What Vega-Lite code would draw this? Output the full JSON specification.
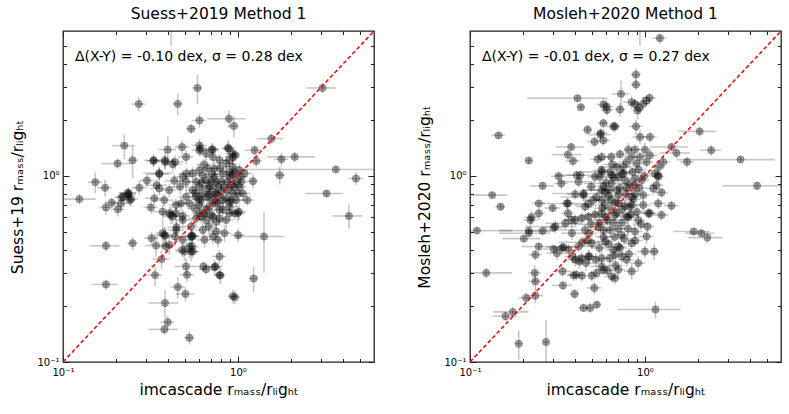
{
"$schema": "https://vega.github.io/schema/vega-lite/v6.json",
"padding": {"left": 10, "top": 6, "right": 5, "bottom": 5},
"spacing": 41,
"config": {
 "font": "DejaVu Sans",
 "view": {"stroke": "#222", "strokeWidth": 1.3},
 "axis": {"domain": false, "grid": false, "tickColor": "#222", "tickWidth": 1, "labelFont": "DejaVu Sans", "labelFontSize": 10, "labelColor": "#000", "titleFont": "DejaVu Sans", "titleFontSize": 15.5, "titleFontWeight": "normal", "titleColor": "#000", "labelOverlap": false, "labelFlush": false},
 "axisX": {"labelPadding": 11, "titlePadding": 3},
 "axisY": {"labelPadding": 10, "titlePadding": 11},
 "title": {"font": "DejaVu Sans", "fontSize": 15.5, "fontWeight": "normal", "color": "#000"}
},
"datasets": {
 "one": [{"a": 1}],
 "diag": [{"v": 0.1}, {"v": 6.2}],
 "suess": [
{"x":0.124,"y":0.750,"ex":0.03,"ey":0.047},
{"x":0.153,"y":0.925,"ex":0.014,"ey":0.12},
{"x":0.174,"y":0.863,"ex":0.016,"ey":0.09},
{"x":0.176,"y":0.677,"ex":0.016,"ey":0.058},
{"x":0.190,"y":0.718,"ex":0.017,"ey":0.045},
{"x":0.206,"y":0.661,"ex":0.019,"ey":0.056},
{"x":0.205,"y":1.164,"ex":0.039,"ey":0.073},
{"x":0.224,"y":1.453,"ex":0.032,"ey":0.22},
{"x":0.250,"y":1.213,"ex":0.017,"ey":0.24},
{"x":0.271,"y":2.43,"ex":0.025,"ey":0.21},
{"x":0.235,"y":0.811,"ex":0.027,"ey":0.051},
{"x":0.237,"y":0.788,"ex":0.022,"ey":0.05},
{"x":0.221,"y":0.772,"ex":0.02,"ey":0.049},
{"x":0.245,"y":0.750,"ex":0.023,"ey":0.064},
{"x":0.215,"y":0.711,"ex":0.025,"ey":0.06},
{"x":0.273,"y":0.863,"ex":0.025,"ey":0.073},
{"x":0.302,"y":0.944,"ex":0.028,"ey":0.08},
{"x":0.330,"y":1.213,"ex":0.038,"ey":0.10},
{"x":0.355,"y":1.033,"ex":0.068,"ey":0.088},
{"x":0.383,"y":1.213,"ex":0.054,"ey":0.13},
{"x":0.397,"y":1.383,"ex":0.046,"ey":0.25},
{"x":0.424,"y":1.155,"ex":0.049,"ey":0.098},
{"x":0.453,"y":2.436,"ex":0.031,"ey":0.32},
{"x":0.480,"y":1.429,"ex":0.044,"ey":0.12},
{"x":0.540,"y":1.791,"ex":0.037,"ey":0.11},
{"x":0.603,"y":1.985,"ex":0.055,"ey":0.17},
{"x":0.611,"y":1.400,"ex":0.041,"ey":0.12},
{"x":0.587,"y":2.966,"ex":0.04,"ey":0.53},
{"x":0.888,"y":2.026,"ex":0.22,"ey":0.22},
{"x":0.948,"y":1.851,"ex":0.064,"ey":0.24},
{"x":0.877,"y":1.411,"ex":0.06,"ey":0.15},
{"x":0.964,"y":1.290,"ex":0.065,"ey":0.081},
{"x":1.553,"y":1.584,"ex":0.26,"ey":0.10},
{"x":1.773,"y":1.228,"ex":0.16,"ey":0.10},
{"x":2.113,"y":1.264,"ex":0.64,"ey":0.08},
{"x":1.734,"y":1.008,"ex":0.12,"ey":0.11},
{"x":3.633,"y":1.081,"ex":2.6,"ey":0.04},
{"x":4.73,"y":0.968,"ex":0.45,"ey":0.08},
{"x":3.046,"y":2.966,"ex":0.58,"ey":0.19},
{"x":3.212,"y":0.804,"ex":0.79,"ey":0.034},
{"x":4.314,"y":0.609,"ex":0.83,"ey":0.09},
{"x":1.219,"y":0.936,"ex":0.08,"ey":0.08},
{"x":1.131,"y":0.741,"ex":0.1,"ey":0.047},
{"x":1.410,"y":0.472,"ex":0.43,"ey":0.17},
{"x":1.230,"y":0.281,"ex":0.08,"ey":0.045},
{"x":1.004,"y":0.480,"ex":0.09,"ey":0.04},
{"x":0.936,"y":0.2255,"ex":0.064,"ey":0.019},
{"x":0.961,"y":0.223,"ex":0.065,"ey":0.019},
{"x":0.785,"y":0.369,"ex":0.072,"ey":0.031},
{"x":0.785,"y":0.293,"ex":0.05,"ey":0.018},
{"x":0.745,"y":0.326,"ex":0.068,"ey":0.02},
{"x":0.635,"y":0.326,"ex":0.058,"ey":0.02},
{"x":0.658,"y":0.315,"ex":0.06,"ey":0.02},
{"x":0.682,"y":0.534,"ex":0.062,"ey":0.045},
{"x":0.751,"y":0.502,"ex":0.069,"ey":0.043},
{"x":0.768,"y":0.453,"ex":0.052,"ey":0.039},
{"x":0.545,"y":0.478,"ex":0.05,"ey":0.04},
{"x":0.528,"y":0.417,"ex":0.048,"ey":0.055},
{"x":0.540,"y":0.392,"ex":0.05,"ey":0.042},
{"x":0.480,"y":0.400,"ex":0.044,"ey":0.034},
{"x":0.505,"y":0.326,"ex":0.071,"ey":0.035},
{"x":0.512,"y":0.294,"ex":0.047,"ey":0.025},
{"x":0.453,"y":0.253,"ex":0.042,"ey":0.033},
{"x":0.501,"y":0.232,"ex":0.058,"ey":0.02},
{"x":0.383,"y":0.2076,"ex":0.074,"ey":0.037},
{"x":0.397,"y":0.1637,"ex":0.036,"ey":0.014},
{"x":0.380,"y":0.1496,"ex":0.073,"ey":0.009},
{"x":0.528,"y":0.135,"ex":0.036,"ey":0.011},
{"x":0.336,"y":0.293,"ex":0.031,"ey":0.038},
{"x":0.340,"y":0.422,"ex":0.048,"ey":0.055},
{"x":0.321,"y":0.462,"ex":0.03,"ey":0.039},
{"x":0.371,"y":0.492,"ex":0.034,"ey":0.088},
{"x":0.388,"y":0.417,"ex":0.036,"ey":0.035},
{"x":0.250,"y":0.435,"ex":0.017,"ey":0.037},
{"x":0.176,"y":0.421,"ex":0.034,"ey":0.027},
{"x":0.176,"y":0.261,"ex":0.03,"ey":0.016},
{"x":0.443,"y":0.512,"ex":0.051,"ey":0.055},
{"x":0.415,"y":0.616,"ex":0.038,"ey":0.066},
{"x":0.406,"y":0.629,"ex":0.037,"ey":0.053},
{"x":0.415,"y":7.0,"ex":0.02,"ey":2.0},
{"x":0.3283,"y":1.203,"ex":0.03,"ey":0.08},
{"x":0.7188,"y":1.383,"ex":0.06,"ey":0.1},
{"x":0.510,"y":1.029,"ex":0.05,"ey":0.08},
{"x":0.6027,"y":1.072,"ex":0.07,"ey":0.09},
{"x":0.735,"y":1.094,"ex":0.08,"ey":0.1},
{"x":0.8958,"y":1.050,"ex":0.09,"ey":0.08},
{"x":1.031,"y":0.988,"ex":0.1,"ey":0.07},
{"x":0.343,"y":0.891,"ex":0.05,"ey":0.07},
{"x":0.4055,"y":0.838,"ex":0.04,"ey":0.07},
{"x":0.467,"y":0.873,"ex":0.06,"ey":0.08},
{"x":0.5519,"y":0.838,"ex":0.05,"ey":0.06},
{"x":0.6299,"y":0.804,"ex":0.06,"ey":0.07},
{"x":0.7512,"y":0.804,"ex":0.07,"ey":0.06},
{"x":0.8572,"y":0.757,"ex":0.08,"ey":0.06},
{"x":1.0,"y":0.804,"ex":0.12,"ey":0.07},
{"x":0.3796,"y":0.741,"ex":0.05,"ey":0.06},
{"x":0.4429,"y":0.697,"ex":0.04,"ey":0.06},
{"x":0.5282,"y":0.711,"ex":0.06,"ey":0.05},
{"x":0.6027,"y":0.697,"ex":0.05,"ey":0.06},
{"x":0.6879,"y":0.683,"ex":0.06,"ey":0.05},
{"x":0.785,"y":0.655,"ex":0.07,"ey":0.06},
{"x":0.8958,"y":0.629,"ex":0.08,"ey":0.05},
{"x":1.013,"y":0.641,"ex":0.1,"ey":0.06},
{"x":0.4836,"y":0.579,"ex":0.05,"ey":0.05},
{"x":0.5768,"y":0.591,"ex":0.06,"ey":0.05},
{"x":0.6582,"y":0.579,"ex":0.06,"ey":0.05},
{"x":0.7512,"y":0.567,"ex":0.07,"ey":0.05},
{"x":0.8572,"y":0.579,"ex":0.08,"ey":0.06},
{"x":0.3796,"y":0.482,"ex":0.04,"ey":0.05},
{"x":0.4836,"y":0.453,"ex":0.05,"ey":0.04},
{"x":0.5519,"y":0.472,"ex":0.06,"ey":0.04},
{"x":0.6439,"y":0.453,"ex":0.06,"ey":0.04},
{"x":0.3713,"y":0.642,"ex":0.05,"ey":0.06},
{"x":0.3327,"y":0.757,"ex":0.04,"ey":0.06},
{"x":0.5054,"y":0.929,"ex":0.06,"ey":0.08},
{"x":0.7032,"y":0.929,"ex":0.07,"ey":0.07},
{"x":0.8026,"y":0.929,"ex":0.08,"ey":0.08},
{"x":0.9157,"y":0.891,"ex":0.08,"ey":0.06},
{"x":0.6027,"y":0.873,"ex":0.06,"ey":0.07},
{"x":0.6582,"y":0.948,"ex":0.06,"ey":0.08},
{"x":0.7188,"y":0.821,"ex":0.07,"ey":0.07},
{"x":0.768,"y":0.873,"ex":0.07,"ey":0.06},
{"x":0.8203,"y":1.029,"ex":0.08,"ey":0.09},
{"x":0.8958,"y":0.988,"ex":0.09,"ey":0.08},
{"x":0.9361,"y":1.117,"ex":0.09,"ey":0.1},
{"x":0.957,"y":1.05,"ex":0.1,"ey":0.08},
{"x":0.8572,"y":1.164,"ex":0.08,"ey":0.12},
{"x":0.785,"y":1.213,"ex":0.07,"ey":0.1},
{"x":0.673,"y":1.094,"ex":0.06,"ey":0.08},
{"x":0.5768,"y":0.772,"ex":0.05,"ey":0.06},
{"x":0.616,"y":0.741,"ex":0.06,"ey":0.06},
{"x":0.7188,"y":0.741,"ex":0.07,"ey":0.06},
{"x":0.768,"y":0.711,"ex":0.07,"ey":0.05},
{"x":0.8203,"y":0.741,"ex":0.08,"ey":0.06},
{"x":0.9361,"y":0.804,"ex":0.09,"ey":0.07},
{"x":0.9782,"y":0.741,"ex":0.1,"ey":0.06},
{"x":1.022,"y":0.873,"ex":0.1,"ey":0.07},
{"x":1.068,"y":0.804,"ex":0.11,"ey":0.07},
{"x":0.6439,"y":0.629,"ex":0.06,"ey":0.05},
{"x":0.7188,"y":0.604,"ex":0.07,"ey":0.05},
{"x":0.785,"y":0.591,"ex":0.07,"ey":0.05},
{"x":0.6027,"y":0.629,"ex":0.06,"ey":0.05},
{"x":0.5642,"y":0.669,"ex":0.05,"ey":0.06},
{"x":0.5054,"y":0.772,"ex":0.05,"ey":0.06},
{"x":0.473,"y":0.711,"ex":0.05,"ey":0.06},
{"x":0.4429,"y":0.629,"ex":0.04,"ey":0.05},
{"x":0.54,"y":0.534,"ex":0.05,"ey":0.05},
{"x":0.6299,"y":0.512,"ex":0.06,"ey":0.05},
{"x":0.7188,"y":0.472,"ex":0.07,"ey":0.04},
{"x":0.8386,"y":0.492,"ex":0.08,"ey":0.05},
{"x":0.8958,"y":0.683,"ex":0.09,"ey":0.06},
{"x":0.957,"y":0.629,"ex":0.1,"ey":0.05},
{"x":0.673,"y":0.772,"ex":0.06,"ey":0.06},
{"x":0.8026,"y":0.821,"ex":0.08,"ey":0.07},
{"x":0.735,"y":0.988,"ex":0.07,"ey":0.09},
{"x":0.6299,"y":1.008,"ex":0.06,"ey":0.09},
{"x":0.9361,"y":1.264,"ex":0.09,"ey":0.12},
{"x":0.8958,"y":1.213,"ex":0.08,"ey":0.1},
{"x":0.6582,"y":1.317,"ex":0.06,"ey":0.12},
{"x":0.5054,"y":1.264,"ex":0.05,"ey":0.11},
{"x":0.7188,"y":1.264,"ex":0.07,"ey":0.13},
{"x":1.022,"y":1.072,"ex":0.11,"ey":0.09},
{"x":1.045,"y":0.929,"ex":0.1,"ey":0.07},
{"x":1.092,"y":1.029,"ex":0.12,"ey":0.08},
{"x":0.9782,"y":0.929,"ex":0.09,"ey":0.07},
{"x":0.7512,"y":0.929,"ex":0.07,"ey":0.08},
{"x":0.5519,"y":1.029,"ex":0.05,"ey":0.08},
{"x":0.5768,"y":0.929,"ex":0.06,"ey":0.07},
{"x":0.673,"y":0.855,"ex":0.06,"ey":0.07},
{"x":0.8763,"y":0.838,"ex":0.08,"ey":0.07},
{"x":0.957,"y":0.873,"ex":0.09,"ey":0.07},
{"x":0.9157,"y":0.741,"ex":0.09,"ey":0.06},
{"x":0.318,"y":0.677,"ex":0.03,"ey":0.05},
{"x":0.3553,"y":0.855,"ex":0.04,"ey":0.07},
{"x":0.433,"y":0.940,"ex":0.05,"ey":0.08},
{"x":0.4836,"y":0.988,"ex":0.06,"ey":0.09},
{"x":0.709,"y":1.388,"ex":0.07,"ey":0.12},
{"x":1.246,"y":1.372,"ex":0.15,"ey":0.09},
{"x":1.274,"y":1.203,"ex":0.1,"ey":0.09},
{"x":0.9361,"y":1.317,"ex":0.09,"ey":0.11},
{"x":0.8869,"y":1.40,"ex":0.08,"ey":0.12},
{"x":0.6027,"y":1.458,"ex":0.06,"ey":0.12},
{"x":0.6027,"y":1.372,"ex":0.06,"ey":0.1},
{"x":0.3553,"y":1.021,"ex":0.05,"ey":0.08},
{"x":0.3838,"y":1.188,"ex":0.05,"ey":0.1},
{"x":0.437,"y":1.188,"ex":0.05,"ey":0.1},
{"x":0.2163,"y":0.766,"ex":0.02,"ey":0.05},
{"x":0.237,"y":0.804,"ex":0.025,"ey":0.06},
{"x":0.241,"y":0.741,"ex":0.02,"ey":0.05},
{"x":0.3838,"y":0.476,"ex":0.04,"ey":0.05},
{"x":0.4055,"y":0.426,"ex":0.04,"ey":0.05},
{"x":0.437,"y":0.472,"ex":0.05,"ey":0.05},
{"x":0.446,"y":0.529,"ex":0.05,"ey":0.05},
{"x":0.366,"y":0.357,"ex":0.04,"ey":0.04},
{"x":0.494,"y":0.392,"ex":0.05,"ey":0.04},
{"x":0.546,"y":0.417,"ex":0.05,"ey":0.04},
{"x":0.5519,"y":0.392,"ex":0.05,"ey":0.03},
{"x":0.540,"y":0.472,"ex":0.05,"ey":0.04},
{"x":0.735,"y":0.323,"ex":0.06,"ey":0.03},
{"x":0.7924,"y":0.292,"ex":0.06,"ey":0.03},
{"x":0.616,"y":0.604,"ex":0.06,"ey":0.05},
{"x":0.7032,"y":0.616,"ex":0.07,"ey":0.05},
{"x":0.4238,"y":0.604,"ex":0.05,"ey":0.05},
{"x":0.4836,"y":0.609,"ex":0.05,"ey":0.05},
{"x":1.0,"y":0.629,"ex":0.1,"ey":0.06},
{"x":0.62,"y":0.92,"ex":0.06,"ey":0.07},
{"x":0.68,"y":0.79,"ex":0.07,"ey":0.06},
{"x":0.74,"y":0.72,"ex":0.07,"ey":0.06},
{"x":0.82,"y":0.66,"ex":0.08,"ey":0.05},
{"x":0.87,"y":0.93,"ex":0.08,"ey":0.07},
{"x":0.93,"y":1.01,"ex":0.09,"ey":0.08},
{"x":0.66,"y":0.66,"ex":0.06,"ey":0.05},
{"x":0.57,"y":0.81,"ex":0.06,"ey":0.06},
{"x":0.79,"y":1.10,"ex":0.08,"ey":0.09},
{"x":0.71,"y":1.02,"ex":0.07,"ey":0.08},
{"x":0.60,"y":0.75,"ex":0.06,"ey":0.06},
{"x":0.83,"y":0.87,"ex":0.08,"ey":0.07},
{"x":0.77,"y":0.78,"ex":0.07,"ey":0.06},
{"x":0.69,"y":0.88,"ex":0.07,"ey":0.07},
{"x":0.90,"y":0.72,"ex":0.09,"ey":0.06},
{"x":0.64,"y":1.15,"ex":0.06,"ey":0.09}
 ],
 "mosleh": [
{"x":1.217,"y":5.49,"ex":0.11,"ey":0.35},
{"x":0.9365,"y":6.3,"ex":0.01,"ey":1.3},
{"x":0.889,"y":3.498,"ex":0.06,"ey":0.30},
{"x":0.889,"y":3.092,"ex":0.06,"ey":0.2},
{"x":0.730,"y":2.756,"ex":0.08,"ey":0.49},
{"x":1.063,"y":2.624,"ex":0.1,"ey":0.17},
{"x":1.022,"y":2.539,"ex":0.07,"ey":0.16},
{"x":0.840,"y":2.488,"ex":0.09,"ey":0.21},
{"x":0.877,"y":2.437,"ex":0.06,"ey":0.15},
{"x":0.924,"y":2.320,"ex":0.06,"ey":0.15},
{"x":0.908,"y":2.245,"ex":0.06,"ey":0.24},
{"x":0.721,"y":2.273,"ex":0.05,"ey":0.19},
{"x":0.603,"y":2.358,"ex":0.055,"ey":0.2},
{"x":0.412,"y":2.613,"ex":0.2,"ey":0.1},
{"x":0.4305,"y":2.339,"ex":0.02,"ey":0.1},
{"x":0.579,"y":2.416,"ex":0.05,"ey":0.2},
{"x":0.579,"y":1.920,"ex":0.04,"ey":0.12},
{"x":0.661,"y":1.843,"ex":0.06,"ey":0.12},
{"x":0.675,"y":1.843,"ex":0.04,"ey":0.12},
{"x":0.470,"y":1.769,"ex":0.03,"ey":0.11},
{"x":0.557,"y":1.664,"ex":0.08,"ey":0.1},
{"x":0.889,"y":1.843,"ex":0.08,"ey":0.16},
{"x":0.9365,"y":1.617,"ex":0.085,"ey":0.14},
{"x":1.068,"y":1.617,"ex":0.1,"ey":0.1},
{"x":2.056,"y":1.733,"ex":0.5,"ey":0.11},
{"x":0.1456,"y":1.650,"ex":0.013,"ey":0.07},
{"x":0.515,"y":1.526,"ex":0.047,"ey":0.1},
{"x":0.579,"y":1.551,"ex":0.053,"ey":0.1},
{"x":0.379,"y":1.429,"ex":0.07,"ey":0.06},
{"x":0.363,"y":1.300,"ex":0.07,"ey":0.08},
{"x":0.388,"y":1.203,"ex":0.035,"ey":0.08},
{"x":0.2168,"y":1.208,"ex":0.01,"ey":0.05},
{"x":0.804,"y":1.383,"ex":0.05,"ey":0.12},
{"x":0.877,"y":1.383,"ex":0.06,"ey":0.09},
{"x":1.0,"y":1.383,"ex":0.09,"ey":0.12},
{"x":1.419,"y":1.429,"ex":0.35,"ey":0.06},
{"x":1.514,"y":1.327,"ex":0.3,"ey":0.08},
{"x":1.742,"y":1.188,"ex":0.16,"ey":0.08},
{"x":2.396,"y":1.372,"ex":0.33,"ey":0.09},
{"x":3.52,"y":1.223,"ex":2.0,"ey":0.05},
{"x":4.38,"y":0.884,"ex":1.6,"ey":0.05},
{"x":1.201,"y":1.117,"ex":0.11,"ey":0.1},
{"x":1.272,"y":1.188,"ex":0.12,"ey":0.1},
{"x":1.191,"y":1.008,"ex":0.08,"ey":0.06},
{"x":1.165,"y":0.891,"ex":0.1,"ey":0.08},
{"x":1.244,"y":0.814,"ex":0.11,"ey":0.05},
{"x":1.419,"y":0.691,"ex":0.13,"ey":0.045},
{"x":1.045,"y":0.629,"ex":0.1,"ey":0.04},
{"x":1.036,"y":0.534,"ex":0.09,"ey":0.035},
{"x":1.13,"y":0.392,"ex":0.07,"ey":0.04},
{"x":1.901,"y":0.502,"ex":0.45,"ey":0.02},
{"x":2.102,"y":0.492,"ex":0.4,"ey":0.02},
{"x":2.274,"y":0.466,"ex":0.5,"ey":0.03},
{"x":0.321,"y":0.996,"ex":0.03,"ey":0.06},
{"x":0.3325,"y":0.910,"ex":0.03,"ey":0.06},
{"x":0.260,"y":0.884,"ex":0.04,"ey":0.04},
{"x":0.408,"y":1.008,"ex":0.05,"ey":0.06},
{"x":0.5665,"y":1.050,"ex":0.05,"ey":0.07},
{"x":0.134,"y":0.788,"ex":0.03,"ey":0.03},
{"x":0.1495,"y":0.683,"ex":0.01,"ey":0.03},
{"x":0.1096,"y":0.508,"ex":0.065,"ey":0.02},
{"x":0.1239,"y":0.301,"ex":0.05,"ey":0.02},
{"x":0.2344,"y":0.301,"ex":0.02,"ey":0.03},
{"x":0.2365,"y":0.271,"ex":0.02,"ey":0.025},
{"x":0.2365,"y":0.227,"ex":0.025,"ey":0.02},
{"x":0.2094,"y":0.221,"ex":0.02,"ey":0.015},
{"x":0.1758,"y":0.1858,"ex":0.04,"ey":0.012},
{"x":0.1596,"y":0.1762,"ex":0.025,"ey":0.01},
{"x":0.190,"y":0.1253,"ex":0.01,"ey":0.022},
{"x":0.272,"y":0.128,"ex":0.01,"ey":0.04},
{"x":0.4457,"y":0.1953,"ex":0.03,"ey":0.01},
{"x":0.4862,"y":0.1953,"ex":0.03,"ey":0.012},
{"x":0.5307,"y":0.2034,"ex":0.03,"ey":0.01},
{"x":0.3962,"y":0.232,"ex":0.025,"ey":0.015},
{"x":1.150,"y":0.1913,"ex":0.45,"ey":0.02},
{"x":0.3398,"y":0.258,"ex":0.045,"ey":0.015},
{"x":0.3908,"y":0.292,"ex":0.035,"ey":0.02},
{"x":0.436,"y":0.291,"ex":0.03,"ey":0.02},
{"x":0.497,"y":0.291,"ex":0.03,"ey":0.02},
{"x":0.5665,"y":0.326,"ex":0.08,"ey":0.02},
{"x":0.6459,"y":0.288,"ex":0.06,"ey":0.02},
{"x":0.675,"y":0.282,"ex":0.04,"ey":0.02},
{"x":0.3428,"y":0.414,"ex":0.07,"ey":0.02},
{"x":0.2472,"y":0.417,"ex":0.05,"ey":0.02},
{"x":0.3008,"y":0.404,"ex":0.04,"ey":0.02},
{"x":0.2365,"y":0.377,"ex":0.02,"ey":0.025},
{"x":0.2168,"y":0.492,"ex":0.07,"ey":0.02},
{"x":0.2168,"y":0.508,"ex":0.07,"ey":0.02},
{"x":0.260,"y":0.506,"ex":0.04,"ey":0.02},
{"x":0.3008,"y":0.527,"ex":0.04,"ey":0.03},
{"x":0.2472,"y":0.711,"ex":0.02,"ey":0.03},
{"x":0.2476,"y":0.629,"ex":0.02,"ey":0.05},
{"x":0.2969,"y":0.672,"ex":0.03,"ey":0.03},
{"x":0.3628,"y":0.711,"ex":0.03,"ey":0.05},
{"x":0.3628,"y":0.629,"ex":0.03,"ey":0.04},
{"x":0.436,"y":0.591,"ex":0.04,"ey":0.04},
{"x":0.3792,"y":0.579,"ex":0.035,"ey":0.04},
{"x":0.2244,"y":0.599,"ex":0.02,"ey":0.05},
{"x":0.2215,"y":0.579,"ex":0.02,"ey":0.04},
{"x":0.203,"y":0.460,"ex":0.05,"ey":0.02},
{"x":0.3995,"y":0.798,"ex":0.04,"ey":0.05},
{"x":0.4457,"y":0.788,"ex":0.03,"ey":0.05},
{"x":0.4929,"y":0.873,"ex":0.03,"ey":0.05},
{"x":0.4757,"y":0.705,"ex":0.03,"ey":0.04},
{"x":0.5665,"y":0.741,"ex":0.04,"ey":0.05},
{"x":0.6237,"y":0.838,"ex":0.04,"ey":0.05},
{"x":0.5376,"y":1.227,"ex":0.05,"ey":0.08},
{"x":0.7862,"y":1.188,"ex":0.08,"ey":0.08},
{"x":0.8965,"y":1.164,"ex":0.09,"ey":0.08},
{"x":1.022,"y":1.188,"ex":0.1,"ey":0.08},
{"x":0.6897,"y":1.117,"ex":0.15,"ey":0.07},
{"x":0.7364,"y":1.029,"ex":0.07,"ey":0.07},
{"x":0.632,"y":1.05,"ex":0.2,"ey":0.07},
{"x":0.5665,"y":1.072,"ex":0.06,"ey":0.07},
{"x":0.554,"y":0.988,"ex":0.06,"ey":0.06},
{"x":0.4266,"y":1.008,"ex":0.12,"ey":0.06},
{"x":1.140,"y":1.029,"ex":0.1,"ey":0.06},
{"x":1.191,"y":0.988,"ex":0.1,"ey":0.06},
{"x":0.6459,"y":0.910,"ex":0.2,"ey":0.06},
{"x":0.7693,"y":0.948,"ex":0.08,"ey":0.06},
{"x":0.8771,"y":0.891,"ex":0.09,"ey":0.06},
{"x":1.115,"y":0.855,"ex":0.1,"ey":0.06},
{"x":0.4174,"y":0.929,"ex":0.1,"ey":0.06},
{"x":0.5192,"y":0.988,"ex":0.05,"ey":0.06},
{"x":0.6459,"y":1.008,"ex":0.06,"ey":0.06},
{"x":0.7527,"y":1.029,"ex":0.07,"ey":0.06},
{"x":0.8771,"y":0.968,"ex":0.09,"ey":0.06},
{"x":0.9784,"y":0.788,"ex":0.1,"ey":0.05},
{"x":0.8398,"y":0.772,"ex":0.08,"ey":0.05},
{"x":0.690,"y":0.838,"ex":0.25,"ey":0.05},
{"x":0.5665,"y":0.838,"ex":0.06,"ey":0.05},
{"x":0.4457,"y":0.804,"ex":0.15,"ey":0.05},
{"x":0.5064,"y":0.741,"ex":0.05,"ey":0.05},
{"x":0.3582,"y":0.711,"ex":0.1,"ey":0.05},
{"x":0.4555,"y":0.683,"ex":0.05,"ey":0.05},
{"x":0.5918,"y":0.697,"ex":0.2,"ey":0.05},
{"x":0.7049,"y":0.711,"ex":0.07,"ey":0.05},
{"x":0.8215,"y":0.683,"ex":0.08,"ey":0.05},
{"x":0.9784,"y":0.697,"ex":0.1,"ey":0.05},
{"x":1.191,"y":0.711,"ex":0.12,"ey":0.05},
{"x":1.244,"y":0.616,"ex":0.12,"ey":0.04},
{"x":1.068,"y":0.629,"ex":0.1,"ey":0.04},
{"x":0.9163,"y":0.579,"ex":0.09,"ey":0.04},
{"x":0.7862,"y":0.604,"ex":0.08,"ey":0.04},
{"x":0.675,"y":0.616,"ex":0.25,"ey":0.04},
{"x":0.5665,"y":0.629,"ex":0.06,"ey":0.04},
{"x":0.4758,"y":0.604,"ex":0.12,"ey":0.04},
{"x":0.3995,"y":0.579,"ex":0.05,"ey":0.04},
{"x":0.3504,"y":0.556,"ex":0.08,"ey":0.04},
{"x":0.3074,"y":0.534,"ex":0.1,"ey":0.04},
{"x":0.3824,"y":0.492,"ex":0.05,"ey":0.04},
{"x":0.4555,"y":0.512,"ex":0.15,"ey":0.04},
{"x":0.5424,"y":0.534,"ex":0.05,"ey":0.04},
{"x":0.632,"y":0.512,"ex":0.06,"ey":0.04},
{"x":0.7364,"y":0.482,"ex":0.07,"ey":0.04},
{"x":0.8771,"y":0.502,"ex":0.09,"ey":0.04},
{"x":1.022,"y":0.472,"ex":0.1,"ey":0.04},
{"x":0.3354,"y":0.409,"ex":0.04,"ey":0.03},
{"x":0.4174,"y":0.417,"ex":0.12,"ey":0.03},
{"x":0.497,"y":0.4346,"ex":0.05,"ey":0.03},
{"x":0.5918,"y":0.4443,"ex":0.06,"ey":0.03},
{"x":0.7049,"y":0.417,"ex":0.07,"ey":0.03},
{"x":0.8398,"y":0.4346,"ex":0.08,"ey":0.03},
{"x":1.0,"y":0.392,"ex":0.1,"ey":0.03},
{"x":0.3995,"y":0.354,"ex":0.05,"ey":0.03},
{"x":0.4758,"y":0.3688,"ex":0.05,"ey":0.03},
{"x":0.5665,"y":0.361,"ex":0.06,"ey":0.03},
{"x":0.675,"y":0.377,"ex":0.07,"ey":0.03},
{"x":0.7862,"y":0.354,"ex":0.08,"ey":0.03},
{"x":0.9163,"y":0.3398,"ex":0.09,"ey":0.03},
{"x":0.579,"y":0.313,"ex":0.06,"ey":0.02},
{"x":0.7049,"y":0.313,"ex":0.07,"ey":0.02},
{"x":0.8398,"y":0.307,"ex":0.08,"ey":0.03},
{"x":0.3142,"y":0.3842,"ex":0.04,"ey":0.03},
{"x":0.3661,"y":0.4003,"ex":0.04,"ey":0.03},
{"x":0.3865,"y":0.3688,"ex":0.04,"ey":0.03},
{"x":0.434,"y":0.361,"ex":0.04,"ey":0.03},
{"x":0.481,"y":0.3688,"ex":0.05,"ey":0.03},
{"x":0.525,"y":0.354,"ex":0.05,"ey":0.03},
{"x":0.3383,"y":0.307,"ex":0.04,"ey":0.02},
{"x":0.405,"y":0.294,"ex":0.04,"ey":0.02},
{"x":0.5136,"y":0.250,"ex":0.05,"ey":0.02},
{"x":0.4214,"y":0.347,"ex":0.04,"ey":0.03},
{"x":0.4605,"y":0.3398,"ex":0.05,"ey":0.03},
{"x":0.607,"y":2.26,"ex":0.05,"ey":0.15},
{"x":0.978,"y":2.437,"ex":0.08,"ey":0.2},
{"x":0.5595,"y":1.697,"ex":0.05,"ey":0.1},
{"x":0.6418,"y":1.264,"ex":0.06,"ey":0.08},
{"x":0.7203,"y":1.305,"ex":0.07,"ey":0.08},
{"x":0.8398,"y":1.264,"ex":0.08,"ey":0.08},
{"x":0.9365,"y":1.264,"ex":0.09,"ey":0.08},
{"x":1.068,"y":1.290,"ex":0.1,"ey":0.08},
{"x":0.5665,"y":1.264,"ex":0.06,"ey":0.08},
{"x":0.62,"y":0.78,"ex":0.06,"ey":0.05},
{"x":0.68,"y":0.72,"ex":0.07,"ey":0.05},
{"x":0.74,"y":0.66,"ex":0.07,"ey":0.05},
{"x":0.80,"y":0.60,"ex":0.08,"ey":0.04},
{"x":0.66,"y":0.56,"ex":0.07,"ey":0.04},
{"x":0.60,"y":0.60,"ex":0.06,"ey":0.04},
{"x":0.72,"y":0.86,"ex":0.07,"ey":0.06},
{"x":0.78,"y":0.80,"ex":0.08,"ey":0.05},
{"x":0.84,"y":0.70,"ex":0.08,"ey":0.05},
{"x":0.64,"y":0.66,"ex":0.06,"ey":0.05},
{"x":0.70,"y":0.52,"ex":0.07,"ey":0.04},
{"x":0.76,"y":0.46,"ex":0.07,"ey":0.03},
{"x":0.58,"y":0.47,"ex":0.06,"ey":0.03},
{"x":0.62,"y":0.43,"ex":0.06,"ey":0.03},
{"x":0.82,"y":0.90,"ex":0.08,"ey":0.06},
{"x":0.88,"y":0.80,"ex":0.09,"ey":0.05},
{"x":0.70,"y":0.98,"ex":0.07,"ey":0.06},
{"x":0.60,"y":0.92,"ex":0.06,"ey":0.06},
{"x":0.66,"y":0.40,"ex":0.06,"ey":0.03},
{"x":0.74,"y":0.37,"ex":0.07,"ey":0.03},
{"x":0.55,"y":0.56,"ex":0.06,"ey":0.04},
{"x":0.61,"y":0.58,"ex":0.15,"ey":0.04},
{"x":0.69,"y":0.63,"ex":0.07,"ey":0.04},
{"x":0.77,"y":0.69,"ex":0.08,"ey":0.05},
{"x":0.86,"y":0.75,"ex":0.09,"ey":0.05},
{"x":0.93,"y":0.86,"ex":0.09,"ey":0.06},
{"x":0.64,"y":0.74,"ex":0.2,"ey":0.05},
{"x":0.71,"y":0.79,"ex":0.07,"ey":0.05},
{"x":0.79,"y":0.86,"ex":0.08,"ey":0.06},
{"x":0.57,"y":0.67,"ex":0.06,"ey":0.05},
{"x":0.52,"y":0.62,"ex":0.05,"ey":0.04},
{"x":0.49,"y":0.55,"ex":0.15,"ey":0.04},
{"x":0.58,"y":0.51,"ex":0.06,"ey":0.04},
{"x":0.67,"y":0.47,"ex":0.07,"ey":0.03},
{"x":0.80,"y":0.52,"ex":0.08,"ey":0.04},
{"x":0.90,"y":0.64,"ex":0.09,"ey":0.04},
{"x":0.96,"y":0.95,"ex":0.1,"ey":0.06},
{"x":0.85,"y":1.05,"ex":0.09,"ey":0.07},
{"x":0.75,"y":1.12,"ex":0.08,"ey":0.07},
{"x":0.66,"y":0.98,"ex":0.07,"ey":0.06},
{"x":0.59,"y":0.82,"ex":0.06,"ey":0.05},
{"x":0.53,"y":0.77,"ex":0.2,"ey":0.05},
{"x":0.47,"y":0.45,"ex":0.05,"ey":0.03},
{"x":0.55,"y":0.41,"ex":0.06,"ey":0.03},
{"x":0.63,"y":0.36,"ex":0.06,"ey":0.03},
{"x":0.72,"y":0.41,"ex":0.07,"ey":0.03},
{"x":0.81,"y":0.38,"ex":0.08,"ey":0.03},
{"x":0.88,"y":0.45,"ex":0.09,"ey":0.03},
{"x":0.95,"y":0.55,"ex":0.1,"ey":0.04},
{"x":0.61,"y":0.31,"ex":0.06,"ey":0.02},
{"x":0.53,"y":0.30,"ex":0.05,"ey":0.02},
{"x":0.68,"y":0.33,"ex":0.07,"ey":0.02},
{"x":0.48,"y":0.49,"ex":0.05,"ey":0.03},
{"x":0.44,"y":0.44,"ex":0.12,"ey":0.03},
{"x":0.74,"y":0.56,"ex":0.07,"ey":0.04},
{"x":0.83,"y":0.62,"ex":0.08,"ey":0.04},
{"x":0.65,"y":1.15,"ex":0.07,"ey":0.07},
{"x":0.92,"y":1.08,"ex":0.09,"ey":0.07},
{"x":0.99,"y":1.00,"ex":0.1,"ey":0.06},
{"x":0.58,"y":0.88,"ex":0.06,"ey":0.05}
 ]
},
"hconcat": [
 {
  "width": 311, "height": 331,
  "title": {"text": "Suess+2019 Method 1", "offset": 8},
  "layer": [
   {"data": {"name": "suess"},
    "mark": {"type": "errorbar", "clip": true, "thickness": 1.6, "color": "#000", "opacity": 0.22},
    "encoding": {
     "x": {"field": "x", "type": "quantitative", "scale": {"type": "log", "domain": [0.1, 6], "nice": false}, "axis": null},
     "xError": {"field": "ex"},
     "y": {"field": "y", "type": "quantitative", "scale": {"type": "log", "domain": [0.1, 6], "nice": false}, "axis": null}}},
   {"data": {"name": "suess"},
    "mark": {"type": "errorbar", "clip": true, "thickness": 1.6, "color": "#000", "opacity": 0.22},
    "encoding": {
     "y": {"field": "y", "type": "quantitative", "scale": {"type": "log", "domain": [0.1, 6], "nice": false}, "axis": null},
     "yError": {"field": "ey"},
     "x": {"field": "x", "type": "quantitative", "scale": {"type": "log", "domain": [0.1, 6], "nice": false}, "axis": null}}},
   {"data": {"name": "suess"},
    "mark": {"type": "point", "filled": true, "clip": true, "size": 55, "fill": "#000", "fillOpacity": 0.38, "stroke": "#000", "strokeOpacity": 0.18, "strokeWidth": 1},
    "encoding": {
     "x": {"field": "x", "type": "quantitative", "scale": {"type": "log", "domain": [0.1, 6], "nice": false},
       "axis": {"orient": "bottom", "title": "imcascade rₘₐₛₛ/rₗᵢgₕₜ", "values": [0.1,0.2,0.3,0.4,0.5,0.6,0.7,0.8,0.9,1,2,3,4,5], "labelExpr": "datum.value == 1 ? '10⁰' : datum.value == 0.1 ? '10⁻¹' : ''", "tickSize": {"condition": {"test": "datum.value == 1 || datum.value == 0.1", "value": -6}, "value": -3.5}}},
     "y": {"field": "y", "type": "quantitative", "scale": {"type": "log", "domain": [0.1, 6], "nice": false},
       "axis": {"orient": "left", "title": "Suess+19 rₘₐₛₛ/rₗᵢgₕₜ", "values": [0.1,0.2,0.3,0.4,0.5,0.6,0.7,0.8,0.9,1,2,3,4,5], "labelExpr": "datum.value == 1 ? '10⁰' : datum.value == 0.1 ? '10⁻¹' : ''", "tickSize": {"condition": {"test": "datum.value == 1 || datum.value == 0.1", "value": -6}, "value": -3.5}}}}},
   {"data": {"name": "diag"},
    "mark": {"type": "line", "clip": true, "color": "red", "strokeDash": [4, 2.5], "strokeWidth": 1.5},
    "encoding": {
     "x": {"field": "v", "type": "quantitative", "scale": {"type": "log", "domain": [0.1, 6], "nice": false},
       "axis": {"orient": "top", "title": null, "labels": false, "values": [0.1,0.2,0.3,0.4,0.5,0.6,0.7,0.8,0.9,1,2,3,4,5], "tickSize": {"condition": {"test": "datum.value == 1 || datum.value == 0.1", "value": -6}, "value": -3.5}}},
     "y": {"field": "v", "type": "quantitative", "scale": {"type": "log", "domain": [0.1, 6], "nice": false},
       "axis": {"orient": "right", "title": null, "labels": false, "values": [0.1,0.2,0.3,0.4,0.5,0.6,0.7,0.8,0.9,1,2,3,4,5], "tickSize": {"condition": {"test": "datum.value == 1 || datum.value == 0.1", "value": -6}, "value": -3.5}}}}},
   {"data": {"name": "one"},
    "mark": {"type": "text", "align": "left", "baseline": "alphabetic", "fontSize": 14, "font": "DejaVu Sans", "color": "#000"},
    "encoding": {
     "x": {"datum": 0.117, "type": "quantitative", "scale": {"type": "log", "domain": [0.1, 6], "nice": false}, "axis": null},
     "y": {"datum": 4.16, "type": "quantitative", "scale": {"type": "log", "domain": [0.1, 6], "nice": false}, "axis": null},
     "text": {"value": "Δ(X-Y) = -0.10 dex, σ = 0.28 dex"}}}
  ],
  "resolve": {"axis": {"x": "independent", "y": "independent"}}
 },
 {
  "width": 311, "height": 331,
  "title": {"text": "Mosleh+2020 Method 1", "offset": 8},
  "layer": [
   {"data": {"name": "mosleh"},
    "mark": {"type": "errorbar", "clip": true, "thickness": 1.6, "color": "#000", "opacity": 0.22},
    "encoding": {
     "x": {"field": "x", "type": "quantitative", "scale": {"type": "log", "domain": [0.1, 6], "nice": false}, "axis": null},
     "xError": {"field": "ex"},
     "y": {"field": "y", "type": "quantitative", "scale": {"type": "log", "domain": [0.1, 6], "nice": false}, "axis": null}}},
   {"data": {"name": "mosleh"},
    "mark": {"type": "errorbar", "clip": true, "thickness": 1.6, "color": "#000", "opacity": 0.22},
    "encoding": {
     "y": {"field": "y", "type": "quantitative", "scale": {"type": "log", "domain": [0.1, 6], "nice": false}, "axis": null},
     "yError": {"field": "ey"},
     "x": {"field": "x", "type": "quantitative", "scale": {"type": "log", "domain": [0.1, 6], "nice": false}, "axis": null}}},
   {"data": {"name": "mosleh"},
    "mark": {"type": "point", "filled": true, "clip": true, "size": 55, "fill": "#000", "fillOpacity": 0.38, "stroke": "#000", "strokeOpacity": 0.18, "strokeWidth": 1},
    "encoding": {
     "x": {"field": "x", "type": "quantitative", "scale": {"type": "log", "domain": [0.1, 6], "nice": false},
       "axis": {"orient": "bottom", "title": "imcascade rₘₐₛₛ/rₗᵢgₕₜ", "values": [0.1,0.2,0.3,0.4,0.5,0.6,0.7,0.8,0.9,1,2,3,4,5], "labelExpr": "datum.value == 1 ? '10⁰' : datum.value == 0.1 ? '10⁻¹' : ''", "tickSize": {"condition": {"test": "datum.value == 1 || datum.value == 0.1", "value": -6}, "value": -3.5}}},
     "y": {"field": "y", "type": "quantitative", "scale": {"type": "log", "domain": [0.1, 6], "nice": false},
       "axis": {"orient": "left", "title": "Mosleh+2020 rₘₐₛₛ/rₗᵢgₕₜ", "values": [0.1,0.2,0.3,0.4,0.5,0.6,0.7,0.8,0.9,1,2,3,4,5], "labelExpr": "datum.value == 1 ? '10⁰' : datum.value == 0.1 ? '10⁻¹' : ''", "tickSize": {"condition": {"test": "datum.value == 1 || datum.value == 0.1", "value": -6}, "value": -3.5}}}}},
   {"data": {"name": "diag"},
    "mark": {"type": "line", "clip": true, "color": "red", "strokeDash": [4, 2.5], "strokeWidth": 1.5},
    "encoding": {
     "x": {"field": "v", "type": "quantitative", "scale": {"type": "log", "domain": [0.1, 6], "nice": false},
       "axis": {"orient": "top", "title": null, "labels": false, "values": [0.1,0.2,0.3,0.4,0.5,0.6,0.7,0.8,0.9,1,2,3,4,5], "tickSize": {"condition": {"test": "datum.value == 1 || datum.value == 0.1", "value": -6}, "value": -3.5}}},
     "y": {"field": "v", "type": "quantitative", "scale": {"type": "log", "domain": [0.1, 6], "nice": false},
       "axis": {"orient": "right", "title": null, "labels": false, "values": [0.1,0.2,0.3,0.4,0.5,0.6,0.7,0.8,0.9,1,2,3,4,5], "tickSize": {"condition": {"test": "datum.value == 1 || datum.value == 0.1", "value": -6}, "value": -3.5}}}}},
   {"data": {"name": "one"},
    "mark": {"type": "text", "align": "left", "baseline": "alphabetic", "fontSize": 14, "font": "DejaVu Sans", "color": "#000"},
    "encoding": {
     "x": {"datum": 0.117, "type": "quantitative", "scale": {"type": "log", "domain": [0.1, 6], "nice": false}, "axis": null},
     "y": {"datum": 4.16, "type": "quantitative", "scale": {"type": "log", "domain": [0.1, 6], "nice": false}, "axis": null},
     "text": {"value": "Δ(X-Y) = -0.01 dex, σ = 0.27 dex"}}}
  ],
  "resolve": {"axis": {"x": "independent", "y": "independent"}}
 }
]
}
